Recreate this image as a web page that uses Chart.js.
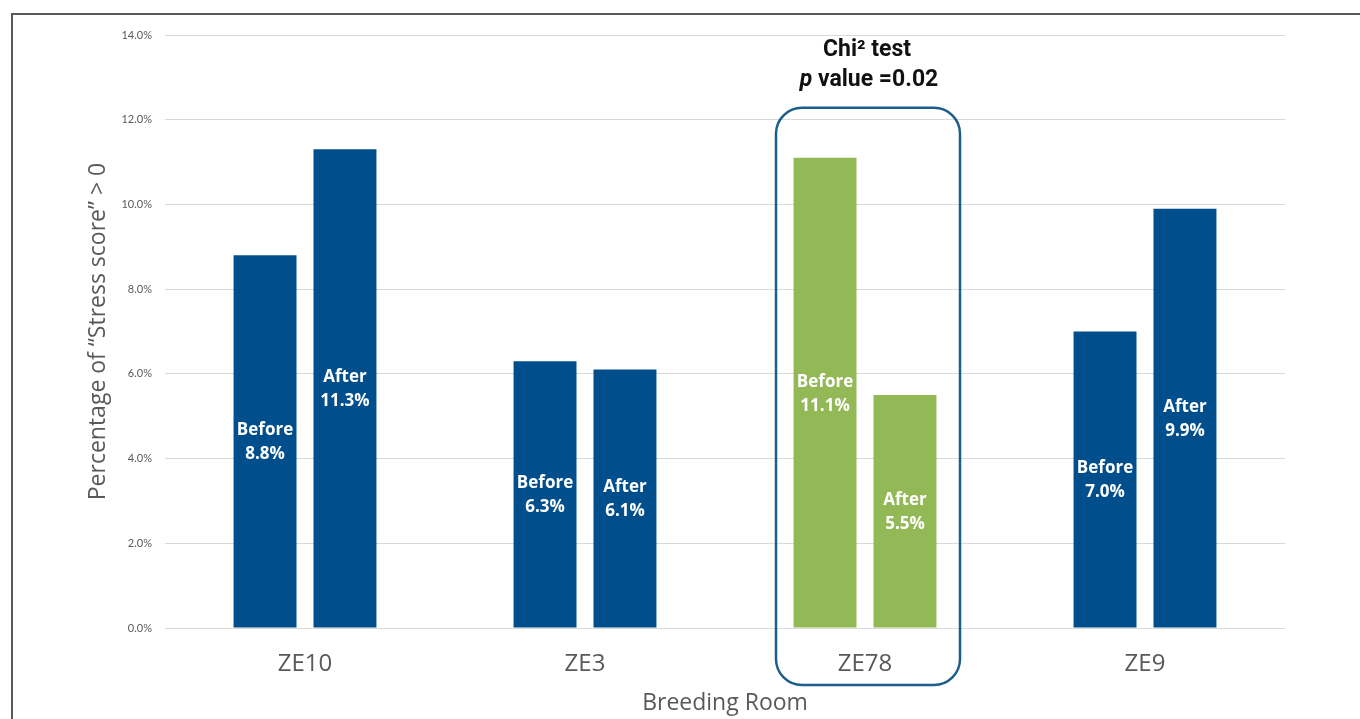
<!DOCTYPE html>
<html>
<head>
<meta charset="utf-8">
<script src="https://cdn.jsdelivr.net/npm/chart.js@4"></script>
<style>
  html, body { margin: 0; padding: 0; background: #fff; }
  #wrap { position: relative; width: 1360px; height: 719px; }
  #frame { position: absolute; left: 11px; top: 13px; right: 0; bottom: 0;
           border-left: 2px solid #595959; border-top: 2px solid #595959; pointer-events: none; }
  canvas { display: block; }
</style>
</head>
<body>
<div id="wrap">
  <canvas id="chart" width="1360" height="719"></canvas>
  <div id="frame"></div>
</div>
<script>
// Breeding rooms and the share of animals with a stress score above 0
const rooms = ['ZE10', 'ZE3', 'ZE78', 'ZE9'];
const beforeValues = [8.8, 6.3, 11.1, 7.0];
const afterValues = [11.3, 6.1, 5.5, 9.9];
const seriesNames = ['Before', 'After'];
const yTicks = [0, 2, 4, 6, 8, 10, 12, 14];
const highlightedRoom = 'ZE78';
const testTitle = 'Chi² test';
const testPValue = '0.02';

const BLUE = '#004F8C';
const GREEN = '#92B956';
const GRAY_TEXT = '#595959';

const barColor = ctx => rooms[ctx.dataIndex] === highlightedRoom ? GREEN : BLUE;

// White "Before / 8.8%" text centred in each bar
const barLabels = {
  id: 'barLabels',
  afterDatasetsDraw(chart) {
    const ctx = chart.ctx;
    ctx.save();
    ctx.fillStyle = '#ffffff';
    ctx.font = 'bold 17px "Open Sans"';
    ctx.textAlign = 'center';
    ctx.textBaseline = 'middle';
    chart.data.datasets.forEach((ds, di) => {
      chart.getDatasetMeta(di).data.forEach((bar, i) => {
        const mid = (bar.y + bar.base) / 2;
        ctx.fillText(ds.label, bar.x, mid - 11);
        ctx.fillText(ds.data[i].toFixed(1) + '%', bar.x, mid + 13);
      });
    });
    ctx.restore();
  }
};

// Rounded frame around the highlighted room with the test result above it
const testBox = {
  id: 'testBox',
  afterDraw(chart) {
    const ctx = chart.ctx;
    const x = chart.scales.x, y = chart.scales.y;
    const idx = rooms.indexOf(highlightedRoom);
    const cx = x.getPixelForValue(idx) + 3;
    const halfW = 92;
    const top = y.getPixelForValue(12.28);
    const bottom = chart.chartArea.bottom + 57;
    ctx.save();
    ctx.strokeStyle = '#1B5E8C';
    ctx.lineWidth = 2.5;
    ctx.beginPath();
    ctx.roundRect(cx - halfW, top, halfW * 2, bottom - top, 26);
    ctx.stroke();

    ctx.fillStyle = '#111111';
    ctx.textBaseline = 'alphabetic';
    ctx.textAlign = 'center';
    ctx.font = 'bold 23px Roboto';
    const top0 = chart.chartArea.top;
    ctx.fillText(testTitle, cx - 1, top0 + 21);

    const pPart = 'p';
    const rest = ' value =' + testPValue;
    ctx.font = 'italic bold 23px Roboto';
    const wp = ctx.measureText(pPart).width;
    ctx.font = 'bold 23px Roboto';
    const wr = ctx.measureText(rest).width;
    const startX = cx + 1 - (wp + wr) / 2;
    ctx.textAlign = 'left';
    ctx.font = 'italic bold 23px Roboto';
    ctx.fillText(pPart, startX, top0 + 51);
    ctx.font = 'bold 23px Roboto';
    ctx.fillText(rest, startX + wp, top0 + 51);
    ctx.restore();
  }
};

new Chart(document.getElementById('chart'), {
  type: 'bar',
  data: {
    labels: rooms,
    datasets: [
      { label: seriesNames[0], data: beforeValues, backgroundColor: barColor },
      { label: seriesNames[1], data: afterValues, backgroundColor: barColor }
    ]
  },
  options: {
    responsive: false,
    animation: false,
    events: [],
    layout: { padding: { top: 35, right: 75, bottom: 0, left: 0 } },
    categoryPercentage: 0.571,
    barPercentage: 0.7875,
    plugins: { legend: { display: false }, tooltip: { enabled: false } },
    scales: {
      x: {
        grid: { display: false },
        border: { display: false },
        ticks: { color: GRAY_TEXT, font: { family: 'Open Sans', size: 24 }, padding: 14 },
        title: {
          display: true, text: 'Breeding Room', color: GRAY_TEXT,
          font: { family: 'Open Sans', size: 23 }, padding: { top: 0, bottom: 2 }
        },
        afterFit(scale) { scale.height = 91; }
      },
      y: {
        min: 0, max: 14,
        afterBuildTicks(scale) { scale.ticks = yTicks.map(v => ({ value: v })); },
        grid: { color: '#D9D9D9', lineWidth: 1, drawTicks: false },
        border: { display: false },
        ticks: {
          color: GRAY_TEXT, font: { family: 'Lato', size: 11 }, padding: 13,
          callback: v => v.toFixed(1) + '%'
        },
        title: {
          display: true, text: 'Percentage of \u201CStress score\u201D > 0', color: GRAY_TEXT,
          font: { family: 'Open Sans', size: 23 }, padding: { top: 85, bottom: 0 }
        },
        afterFit(scale) { scale.width = 165; }
      }
    }
  },
  plugins: [barLabels, testBox]
});
</script>
</body>
</html>
